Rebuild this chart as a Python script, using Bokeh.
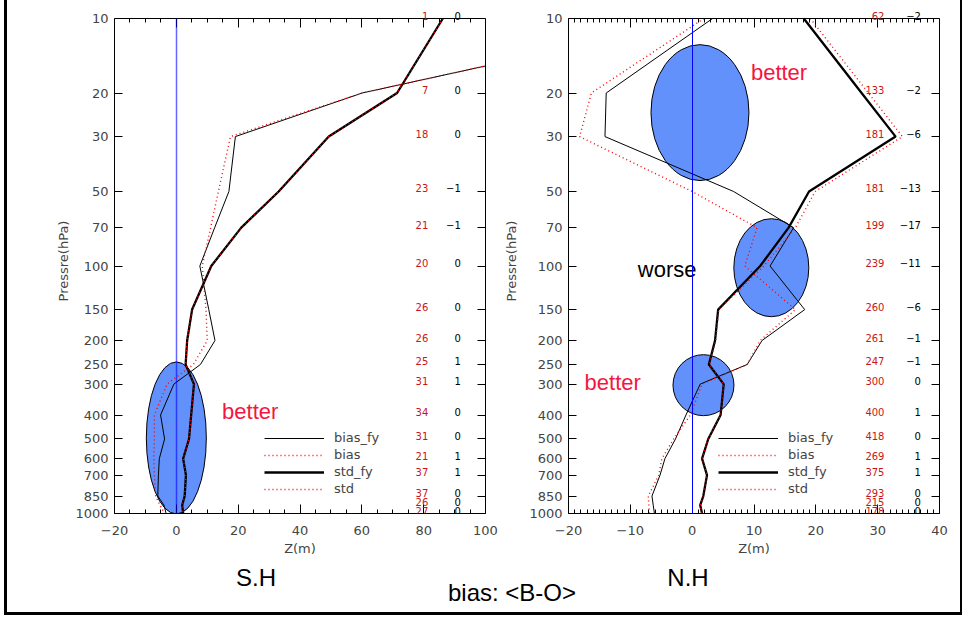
from bokeh.plotting import figure
from bokeh.models import (Range1d, FixedTicker, SingleIntervalTicker, Grid, Label, LinearAxis,
                          PrintfTickFormatter, Legend, LegendItem, ColumnDataSource, Div)
from bokeh.layouts import row, column
from bokeh.core.properties import value
from bokeh.embed import file_html
from bokeh.resources import INLINE

# ---------------- data ----------------
levels = [10, 20, 30, 50, 70, 100, 150, 200, 250, 300, 400, 500, 600, 700, 850, 925, 1000]
tick_levels = [10, 20, 30, 50, 70, 100, 150, 200, 250, 300, 400, 500, 600, 700, 850, 1000]

# Southern hemisphere
sh_bias_fy = [170, 60.1, 19.1, 17.0, 12.4, 7.6, 10.5, 12.5, 7.8, -0.8, -5.1, -3.8, -5.5, -5.8, -6.0, -4.0, -3.3]
sh_bias = [170, 60.1, 17.5, 13.6, 11.1, 8.4, 9.6, 10.0, 5.5, -3.0, -7.1, -7.1, -7.3, -7.1, -6.7, -5.3, -3.8]
sh_std_fy = [86.2, 71.4, 49.3, 33.1, 21.0, 11.3, 5.1, 3.5, 3.0, 5.7, 4.8, 4.1, 2.2, 3.1, 2.7, 1.9, 2.2]
sh_std = [86.2, 71.4, 49.3, 33.1, 21.0, 11.3, 5.1, 3.5, 3.0, 5.7, 4.8, 4.1, 2.2, 3.1, 2.7, 1.9, 2.2]
sh_count = [1, 7, 18, 23, 21, 20, 26, 26, 25, 31, 34, 31, 21, 37, 37, 26, 27]
sh_diff = [0, 0, 0, -1, -1, 0, 0, 0, 1, 1, 0, 0, 1, 1, 0, 0, 0]

# Northern hemisphere
nh_bias_fy = [3.3, -13.9, -14.1, 6.7, 16.4, 12.6, 18.2, 11.3, 8.9, 1.3, -1.0, -2.7, -4.4, -5.2, -6.5, -6.3, -6.1]
nh_bias = [1.9, -16.3, -18.2, 0.0, 10.5, 8.5, 16.7, 11.0, 8.9, 1.6, -0.3, -3.0, -4.9, -5.4, -7.1, -7.0, -6.9]
nh_std_fy = [18.05, 27.4, 32.9, 18.9, 15.6, 11.0, 4.2, 3.7, 2.7, 5.1, 4.6, 2.6, 1.6, 2.4, 1.8, 1.3, 1.6]
nh_std = [19.1, 28.5, 34.0, 19.9, 16.7, 11.6, 4.3, 3.8, 2.8, 5.1, 4.6, 2.6, 1.6, 2.4, 1.8, 1.3, 1.6]
nh_count = [62, 133, 181, 181, 199, 239, 260, 261, 247, 300, 400, 418, 269, 375, 293, 215, 178]
nh_diff = [-2, -2, -6, -13, -17, -11, -6, -1, -1, 0, 1, 0, 1, 1, 0, 0, 0]

# highlighted regions (center x, center pressure, width px, height px)
sh_ellipses = dict(x=[0.0], y=[495], w=[60], h=[152])
nh_ellipses = dict(x=[1.26, 12.8, 1.83], y=[24.0, 101.6, 303], w=[98, 75, 61], h=[136, 98, 61])

TICK_FONT = "DejaVu Sans"
RED = "#ff0000"
NUM_RED = "#c81616"
BETTER = "#f5163f"
FRAME_W, FRAME_H = 371, 495
P_TOP, P_BOT = 10.0, 1000.0
HEADROOM = 10  # px of free space above the plotted box (for the top row of numbers)


def fmt(v):
    return str(v).replace("-", "\u2212")


def make_panel(xr, interval, minor, width, bl, br, data, counts, diffs, cx, dx,
               ell, notes, zero_alpha, zero_width, label_standoff):
    dec_per_px = 2.0 / FRAME_H
    units_per_px = (xr[1] - xr[0]) / FRAME_W
    y_ext = P_TOP * 10 ** (-HEADROOM * dec_per_px)
    p = figure(width=width, height=568, x_range=Range1d(*xr), y_range=Range1d(P_BOT, y_ext),
               y_axis_type="log", output_backend="svg", toolbar_location=None,
               min_border_left=bl, min_border_right=br, min_border_top=18 - HEADROOM,
               min_border_bottom=55)
    p.grid.visible = False
    p.outline_line_color = None
    p.background_fill_color = "white"
    p.border_fill_color = None

    xt = SingleIntervalTicker(interval=interval, num_minor_ticks=minor)
    overrides = {v: fmt(v) for v in range(int(xr[0]), int(xr[1]) + 1, interval) if v < 0}
    xa = p.xaxis[0]
    xa.ticker = xt
    xa.major_label_overrides = overrides
    xa.axis_label = "Z(m)"
    xa.major_label_text_font = TICK_FONT
    xa.major_label_text_font_size = "13px"
    xa.axis_label_text_font = TICK_FONT
    xa.axis_label_text_font_size = "13px"
    xa.axis_label_text_font_style = "normal"
    xa.major_label_standoff = 12
    xa.axis_label_standoff = 3
    xa.major_tick_in = 9
    xa.major_tick_out = 0
    xa.minor_tick_in = 4
    xa.minor_tick_out = 0

    yt = FixedTicker(ticks=tick_levels, minor_ticks=[])
    ya = p.yaxis[0]
    ya.ticker = yt
    ya.bounds = (P_TOP, P_BOT)
    ya.formatter = PrintfTickFormatter(format="%d")
    ya.axis_label = "Pressre(hPa)"
    ya.major_label_text_font = TICK_FONT
    ya.major_label_text_font_size = "13px"
    ya.axis_label_text_font = TICK_FONT
    ya.axis_label_text_font_size = "13px"
    ya.axis_label_text_font_style = "normal"
    ya.major_label_standoff = 6
    ya.axis_label_standoff = label_standoff
    ya.major_tick_in = 8
    ya.major_tick_out = 0
    ya.minor_tick_in = 0
    ya.minor_tick_out = 0

    # right edge of the box: an axis line without ticks
    p.add_layout(LinearAxis(ticker=FixedTicker(ticks=[], minor_ticks=[]), bounds=(P_TOP, P_BOT),
                            major_tick_in=0, major_tick_out=0, minor_tick_in=0, minor_tick_out=0,
                            axis_line_color="black"), "right")
    # top edge of the box
    p.add_layout(Grid(dimension=1, ticker=FixedTicker(ticks=[P_TOP], minor_ticks=[]),
                      cross_bounds=xr, grid_line_color="black", level="annotation"))
    # mirrored tick marks on the top and right edges (short grid segments)
    p.add_layout(Grid(dimension=0, ticker=xt, cross_bounds=(P_TOP, P_TOP * 10 ** (9 * dec_per_px)),
                      grid_line_color="black", minor_grid_line_color=None))
    p.add_layout(Grid(dimension=0, ticker=xt, cross_bounds=(P_TOP, P_TOP * 10 ** (4 * dec_per_px)),
                      grid_line_color=None, minor_grid_line_color="black"))
    p.add_layout(Grid(dimension=1, ticker=yt, cross_bounds=(xr[1] - 8 * units_per_px, xr[1]),
                      grid_line_color="black", minor_grid_line_color=None))

    # ellipses
    p.ellipse(x="x", y="y", width="w", height="h", width_units="screen", height_units="screen",
              source=ColumnDataSource(ell), fill_color="#6291fc", line_color="black", line_width=1)

    bias_fy, bias, std_fy, std = data
    r1 = p.line(bias_fy, levels, line_color="black", line_width=1)
    r2 = p.line(bias, levels, line_color=RED, line_width=1.4, line_dash="1 3")
    r3 = p.line(std_fy, levels, line_color="black", line_width=2.3)
    r4 = p.line(std, levels, line_color=RED, line_width=1.4, line_dash="1 3")

    # zero reference line
    p.add_layout(Grid(dimension=0, ticker=FixedTicker(ticks=[0], minor_ticks=[]),
                      cross_bounds=(P_TOP, P_BOT), grid_line_color="#0000ff",
                      grid_line_alpha=zero_alpha, grid_line_width=zero_width, level="annotation"))

    # counts and differences per level
    for lvl, c, d in zip(levels, counts, diffs):
        p.add_layout(Label(x=cx, y=lvl, text=str(c), text_align="right", text_baseline="middle",
                           y_offset=3, text_font=TICK_FONT, text_font_size="10px",
                           text_color=NUM_RED))
        p.add_layout(Label(x=dx, y=lvl, text=fmt(d), text_align="right", text_baseline="middle",
                           y_offset=3, text_font=TICK_FONT, text_font_size="10px",
                           text_color="black"))

    for (tx, ty, tt, col) in notes:
        p.text(x=[tx], y=[ty], text=[tt], text_font=value("Liberation Sans"),
               text_font_size="22px", text_color=col, text_baseline="alphabetic", y_offset=-8)

    legend = Legend(items=[LegendItem(label="bias_fy", renderers=[r1]),
                           LegendItem(label="bias", renderers=[r2]),
                           LegendItem(label="std_fy", renderers=[r3]),
                           LegendItem(label="std", renderers=[r4])],
                    location=(150, 17), border_line_color=None, background_fill_alpha=0,
                    glyph_width=60, glyph_height=14, label_height=14, spacing=2,
                    padding=0, margin=0, label_standoff=10,
                    label_text_font=TICK_FONT, label_text_font_size="13px")
    p.add_layout(legend)
    return p


p1 = make_panel((-20, 100), 20, 4, 498, 114, 13,
                (sh_bias_fy, sh_bias, sh_std_fy, sh_std), sh_count, sh_diff, 81.5, 92.0,
                sh_ellipses, [(14.8, 417, "better", BETTER)], 0.6, 1.5, 1)
p2 = make_panel((-20, 40), 10, 10, 466, 70, 25,
                (nh_bias_fy, nh_bias, nh_std_fy, nh_std), nh_count, nh_diff, 31.1, 37.0,
                nh_ellipses, [(9.5, 17.8, "better", BETTER), (-17.4, 318, "better", BETTER),
                              (-8.8, 111, "worse", "black")], 1.0, 1.0, 7)

span = "position:absolute;white-space:nowrap;transform:translateX(-50%);line-height:24px;"
html = ('<div style="position:relative;width:964px;height:49px;font-family:\'Liberation Sans\',Arial,sans-serif;'
        'font-size:24px;color:black;">'
        f'<span style="{span}left:256px;top:-2px;">S.H</span>'
        f'<span style="{span}left:688px;top:-2px;">N.H</span>'
        f'<span style="{span}left:512px;top:13px;">bias: &lt;B-O&gt;</span>'
        '</div>')
captions = Div(text=html, width=964, height=49, styles={"margin": "0", "padding": "0"})

layout = column(row(p1, p2), captions,
                styles={"box-shadow": "inset 4px 0 0 0 #fff, inset -2px 0 0 0 #fff, inset 0 -2px 0 0 #fff, "
                                      "inset 7px 0 0 0 #000, inset -4px 0 0 0 #000, inset 0 -5px 0 0 #000"})

open("out.html", "w").write(file_html(layout, INLINE))
